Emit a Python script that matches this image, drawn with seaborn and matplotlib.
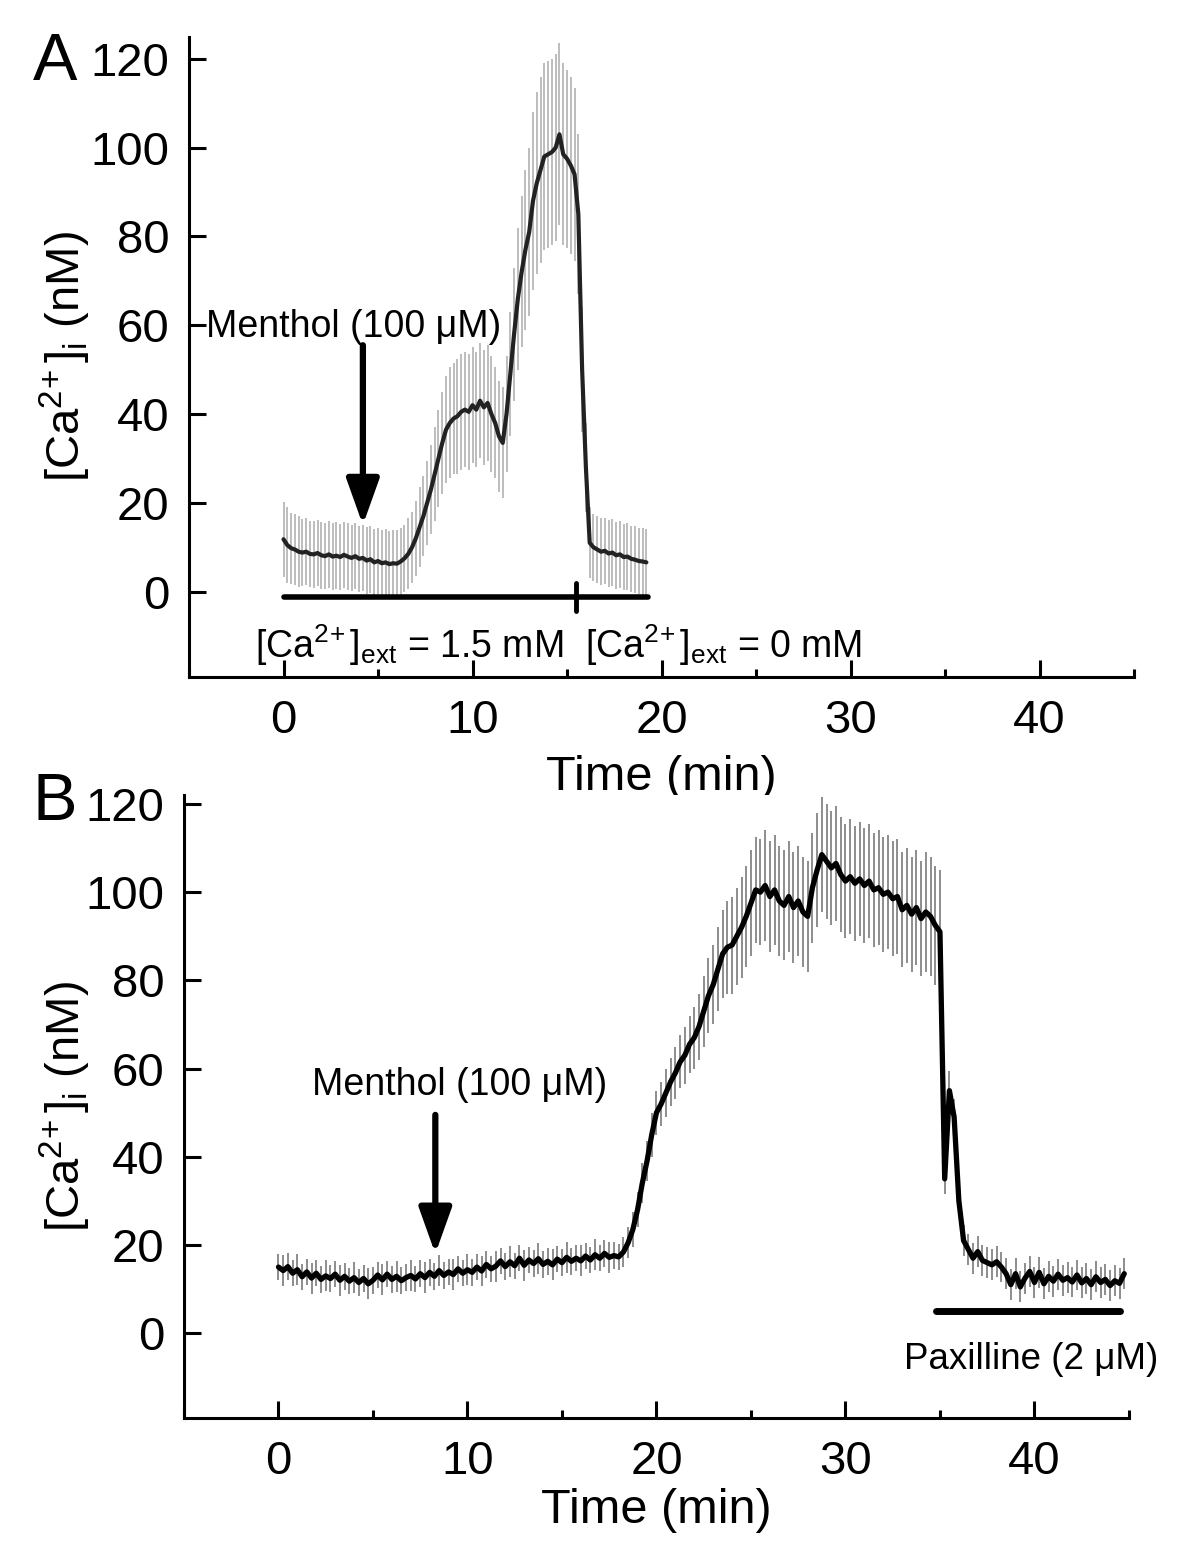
import numpy as np
import pandas as pd
import matplotlib
matplotlib.use('Agg')
import matplotlib.pyplot as plt
from matplotlib.ticker import MultipleLocator
import seaborn as sns

sns.set_style('ticks')
plt.rcParams['font.family'] = ['Liberation Sans', 'DejaVu Sans']
plt.rcParams['mathtext.fontset'] = 'custom'
plt.rcParams['mathtext.rm'] = 'Liberation Sans'
plt.rcParams['mathtext.it'] = 'Liberation Sans:italic'
plt.rcParams['mathtext.bf'] = 'Liberation Sans:bold'
plt.rcParams.update({'text.color': 'black', 'axes.labelcolor': 'black',
                     'xtick.color': 'black', 'ytick.color': 'black',
                     'axes.edgecolor': 'black'})

# ---- panel A : menthol, then Ca-free solution (sampled every 0.2 min) ----
time_a = np.round(np.arange(0, 19.21, 0.2), 2)
ca_a = [11.8, 10.5, 9.8, 9.5, 9.0, 8.8, 9.0, 8.5, 8.4, 8.7,
        8.2, 8.0, 8.4, 7.9, 8.1, 7.8, 8.3, 7.9, 7.6, 8.0,
        7.4, 7.6, 7.0, 7.3, 6.6, 6.9, 6.4, 6.6, 6.2, 6.4,
        6.3, 6.8, 7.5, 8.5, 10.0, 12.0, 14.5, 17.0, 20.0, 23.0,
        26.5, 30.0, 33.5, 36.5, 38.0, 39.0, 39.5, 40.5, 41.0, 40.5,
        42.0, 41.0, 43.0, 41.5, 42.5, 40.0, 38.0, 35.0, 33.5, 40.0,
        49.0, 58.0, 66.0, 72.0, 77.0, 81.0, 88.0, 92.0, 95.0, 98.0,
        98.5, 99.0, 100.0, 103.0, 98.5, 97.5, 96.0, 94.0, 85.0, 50.0,
        28.0, 11.0, 10.0, 9.5, 9.0, 9.2, 8.6, 8.8, 8.2, 8.4,
        7.8, 7.9, 7.4, 7.2, 6.9, 6.8, 6.6]
sem_a = [8.5, 8.5, 8.0, 8.0, 8.0, 7.5, 7.5, 7.5, 7.5, 7.5,
         7.5, 7.5, 7.5, 7.5, 7.5, 7.5, 7.5, 7.5, 7.5, 7.5,
         7.5, 7.5, 7.5, 7.5, 7.5, 7.5, 7.5, 7.5, 7.5, 7.5,
         7.5, 7.5, 7.5, 8.0, 8.0, 8.5, 9.0, 9.0, 9.5, 10.0,
         10.5, 11.0, 11.5, 12.0, 12.5, 12.5, 13.0, 13.0, 13.0, 13.0,
         13.0, 13.0, 13.0, 13.0, 13.0, 13.0, 12.5, 12.5, 12.5, 13.0,
         14.0, 15.0, 16.0, 17.0, 18.0, 19.0, 20.0, 20.5, 21.0, 21.0,
         21.0, 21.0, 21.0, 20.5, 20.5, 20.0, 20.0, 19.5, 18.0, 14.0,
         10.0, 8.0, 7.5, 7.5, 7.5, 7.5, 7.5, 7.5, 7.5, 7.5,
         7.5, 7.5, 7.5, 7.5, 7.5, 7.5, 7.5]
menthol_a = 4.2
ca_solution_a = [0, 15.5, 19.3]   # 1.5 mM until switch, then 0 mM

# ---- panel B : menthol, then paxilline (sampled every 0.25 min) ----
time_b = np.round(np.arange(0, 44.76, 0.25), 2)
ca_b = [15.0, 14.2, 15.1, 13.6, 14.4, 12.8, 13.9, 12.5,
        13.6, 12.2, 13.0, 12.4, 13.4, 12.0, 12.9, 11.8,
        12.6, 11.5, 12.4, 11.2, 12.0, 13.2, 12.1, 13.4,
        12.2, 12.9, 11.9, 12.6, 13.1, 12.3, 13.5, 12.6,
        13.8, 12.9, 14.2, 13.1, 13.9, 13.3, 14.6, 13.6,
        14.4, 13.8, 15.0, 14.1, 15.6, 14.6, 15.2, 16.4,
        15.1, 16.2, 15.3, 17.0, 15.4, 16.6, 15.8, 16.9,
        15.6, 16.3, 15.5, 16.8, 16.0, 17.2, 16.3, 17.0,
        16.4, 17.5, 16.6, 17.8, 17.0, 18.1, 17.2, 17.6,
        17.3, 18.4, 20.5, 23.5, 28.0, 34.0, 39.0, 45.0,
        50.0, 52.0, 54.5, 57.0, 59.0, 61.5, 63.0, 65.5,
        67.0, 69.5, 73.0, 76.5, 79.0, 82.5, 86.0, 87.5,
        88.0, 90.0, 92.0, 94.5, 97.5, 100.5, 100.0, 101.5,
        99.0, 100.5, 98.0, 97.0, 99.0, 96.5, 98.0, 95.5,
        94.5, 101.0, 105.0, 108.5, 107.0, 105.5, 106.5, 104.0,
        102.5, 103.5, 102.0, 103.0, 101.5, 102.5, 100.5, 101.0,
        99.5, 100.0, 98.5, 99.0, 96.0, 97.0, 95.0, 96.5,
        94.0, 95.5, 94.5, 92.5, 91.0, 35.0, 55.0, 49.0,
        30.0, 21.0, 19.0, 17.0, 18.5, 16.5, 16.0, 15.5,
        16.2, 15.0, 13.5, 11.0, 13.5, 10.5, 12.5, 14.0,
        11.5, 13.8, 11.2, 12.9, 11.8, 13.4, 12.0, 12.6,
        11.6, 13.2, 11.4, 12.4, 11.0, 12.8, 11.5, 12.2,
        10.8, 11.9, 11.3, 13.5]
sem_b = [3.0, 3.5, 3.0, 3.0, 3.5, 3.0, 3.0, 3.5,
         3.0, 3.0, 3.5, 3.0, 3.0, 3.5, 3.0, 3.0,
         3.5, 3.0, 3.0, 3.5, 3.0, 3.0, 3.5, 3.0,
         3.0, 3.5, 3.0, 3.0, 3.5, 3.0, 3.0, 3.5,
         3.0, 3.0, 3.5, 3.0, 3.0, 3.5, 3.0, 3.0,
         3.5, 3.0, 3.0, 3.5, 3.0, 3.0, 3.5, 3.0,
         3.0, 3.5, 3.0, 3.0, 3.5, 3.0, 3.0, 3.5,
         3.0, 3.0, 3.5, 3.0, 3.0, 3.5, 3.0, 3.0,
         3.5, 3.0, 3.0, 3.5, 3.0, 3.0, 3.5, 3.0,
         3.0, 3.5, 3.5, 4.0, 4.0, 4.5, 4.5, 5.0,
         5.0, 5.0, 5.5, 5.5, 6.0, 6.0, 6.5, 6.5,
         7.0, 7.5, 8.0, 8.5, 9.0, 9.5, 10.0, 10.5,
         11.0, 11.0, 11.5, 11.5, 12.0, 12.0, 12.0, 12.5,
         12.5, 12.5, 12.5, 12.5, 12.5, 12.5, 12.5, 12.5,
         12.5, 12.5, 13.0, 13.0, 13.0, 13.0, 13.0, 13.0,
         13.0, 13.0, 13.0, 13.0, 13.0, 13.0, 13.0, 13.0,
         13.0, 13.0, 13.0, 13.0, 13.0, 13.0, 13.0, 13.0,
         13.0, 13.5, 13.5, 13.5, 14.0, 3.5, 4.5, 4.0,
         3.5, 3.5, 3.5, 3.5, 3.5, 3.5, 3.5, 3.5,
         3.5, 3.5, 3.5, 3.5, 3.5, 3.5, 3.5, 3.5,
         3.5, 3.5, 3.5, 3.5, 3.5, 3.5, 3.5, 3.5,
         3.5, 3.5, 3.5, 3.5, 3.5, 3.5, 3.5, 3.5,
         3.5, 3.5, 3.5, 3.5]
menthol_b = 8.3
paxilline_b = [34.8, 44.5]

df_a = pd.DataFrame({'t': time_a, 'ca': ca_a, 'err': sem_a})
df_b = pd.DataFrame({'t': time_b, 'ca': ca_b, 'err': sem_b})

fig = plt.figure(figsize=(12, 15.59), dpi=100)
axA = fig.add_axes([0.1575, 0.5658, 0.7875, 0.4107])
axB = fig.add_axes([0.1533, 0.0905, 0.7875, 0.3995])

axA.errorbar(df_a['t'], df_a['ca'], yerr=df_a['err'], fmt='none', ecolor='#b8b8b8',
             elinewidth=1.3, capsize=0, zorder=1)
sns.lineplot(data=df_a, x='t', y='ca', ax=axA, color='#222222', linewidth=3.0, zorder=3)

axB.errorbar(df_b['t'], df_b['ca'], yerr=df_b['err'], fmt='none', ecolor='#7a7a7a',
             elinewidth=1.2, capsize=0, zorder=1)
sns.lineplot(data=df_b, x='t', y='ca', ax=axB, color='black', linewidth=3.8, zorder=3)

sup = r'$^{2\!+}$'
ylab = '[Ca' + sup + r']$_{\mathrm{i}}$ (nM)'
for ax, ytop, xlab_y, ylab_x in [(axA, 125, -0.122, -0.1016), (axB, 122, -0.113, -0.096)]:
    ax.set_xlim(-5, 45)
    ax.set_ylim(-19.2, ytop)
    ax.set_xticks([0, 10, 20, 30, 40])
    ax.xaxis.set_minor_locator(MultipleLocator(5))
    ax.set_yticks([0, 20, 40, 60, 80, 100, 120])
    sns.despine(ax=ax)
    for s in ['left', 'bottom']:
        ax.spines[s].set_linewidth(2.2)
    ax.tick_params(which='major', direction='in', length=12, width=2.2, labelsize=34)
    ax.tick_params(which='minor', direction='in', length=6, width=2.2)
    ax.tick_params(axis='x', which='major', pad=16)
    ax.tick_params(axis='y', which='major', pad=14)
    ax.set_xlabel('Time (min)', fontsize=35)
    ax.set_ylabel(ylab, fontsize=34)
    ax.xaxis.set_label_coords(0.5, xlab_y)
    ax.yaxis.set_label_coords(ylab_x, 0.5)

arrow_kw = dict(arrowstyle='-|>,head_length=1.4,head_width=0.5', color='black',
                lw=4.5, mutation_scale=20, shrinkA=0, shrinkB=0)

# annotations panel A
axA.text(3.7, 59.5, 'Menthol (100 μM)', fontsize=27, ha='center', va='center')
axA.annotate('', xy=(menthol_a, 15), xytext=(menthol_a, 55.5), arrowprops=arrow_kw)
axA.plot([ca_solution_a[0], ca_solution_a[2]], [-1.2, -1.2], color='black', lw=4,
         solid_capstyle='round')
axA.plot([ca_solution_a[1], ca_solution_a[1]], [2.0, -4.3], color='black', lw=3.5)
axA.text(6.65, -12, '[Ca' + sup + r']$_{\mathrm{ext}}$ = 1.5 mM', fontsize=27,
         ha='center', va='center')
axA.text(23.3, -12, '[Ca' + sup + r']$_{\mathrm{ext}}$ = 0 mM', fontsize=27,
         ha='center', va='center')

# annotations panel B
axB.text(9.6, 56.3, 'Menthol (100 μM)', fontsize=27, ha='center', va='center')
axB.annotate('', xy=(menthol_b, 18), xytext=(menthol_b, 49.5), arrowprops=arrow_kw)
axB.plot(paxilline_b, [5, 5], color='black', lw=5, solid_capstyle='round')
axB.text(39.8, -6, 'Paxilline (2 μM)', fontsize=26.5, ha='center', va='center')

fig.text(0.046, 1 - 63 / 1559, 'A', fontsize=48, ha='center', va='center')
fig.text(0.046, 1 - 803 / 1559, 'B', fontsize=48, ha='center', va='center')

fig.savefig('out.png', dpi=100)
